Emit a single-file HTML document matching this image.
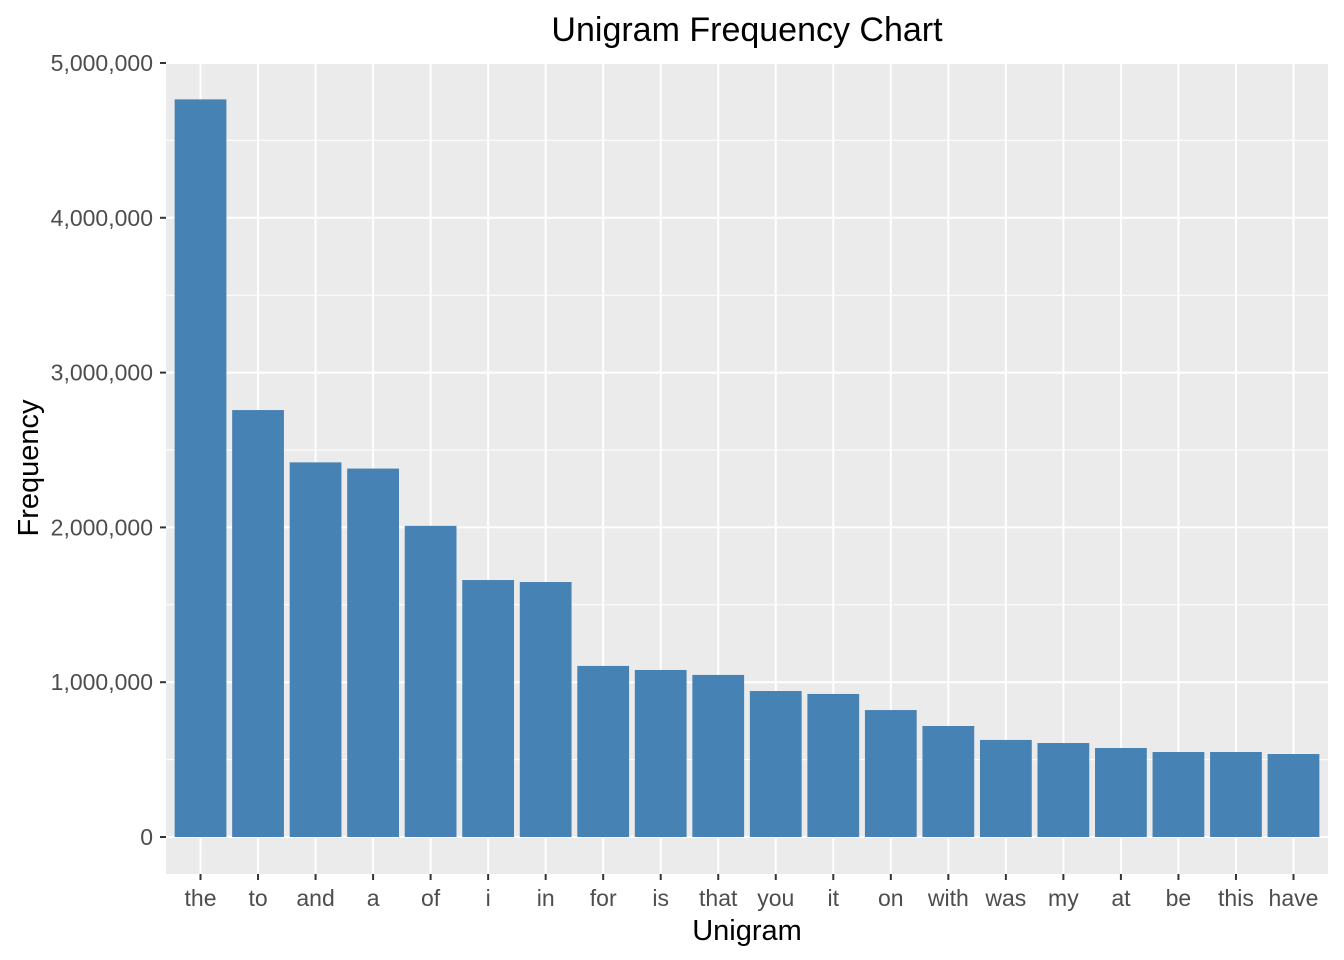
<!DOCTYPE html>
<html><head><meta charset="utf-8"><style>
body{margin:0;background:#fff;}
svg{display:block;font-family:"Liberation Sans",Arial,sans-serif;}
</style></head><body>
<svg id="chart" width="1344" height="960">
<rect x="0" y="0" width="1344" height="960" fill="#fff"/>
<rect x="166" y="63" width="1162" height="811" fill="#ebebeb"/>
<g id="grid"></g><g id="bars"></g><g id="axes"></g>
<text x="747" y="41" text-anchor="middle" font-size="34" fill="#000">Unigram Frequency Chart</text>
<text x="747" y="940" text-anchor="middle" font-size="29" fill="#000">Unigram</text>
<text transform="translate(38,468) rotate(-90)" text-anchor="middle" font-size="29" fill="#000">Frequency</text>
</svg>
<script>
const categories=["the","to","and","a","of","i","in","for","is","that","you","it","on","with","was","my","at","be","this","have"];
const frequencies=[4765000,2758000,2420000,2380000,2010000,1660000,1647000,1105000,1079000,1047000,943000,924000,820000,717000,627000,607000,575000,549000,549000,536000];
const yTicks=[0,1000000,2000000,3000000,4000000,5000000];
const yTickLabels=["0","1,000,000","2,000,000","3,000,000","4,000,000","5,000,000"];
const NS="http://www.w3.org/2000/svg";
const panelLeft=166,panelRight=1328,panelTop=63,panelBottom=874;
const yZero=837,yPer=(837-63)/5000000;
const yScale=v=>yZero-v*yPer;
const step=(panelRight-panelLeft)/(categories.length+0.2);
const xScale=i=>panelLeft+step*(0.6+i);
function mk(tag,attrs,parent){const e=document.createElementNS(NS,tag);for(const k in attrs)e.setAttribute(k,attrs[k]);parent.appendChild(e);return e;}
const gridG=document.getElementById('grid'),barsG=document.getElementById('bars'),axesG=document.getElementById('axes');
for(let i=0;i<yTicks.length;i++){
  const y=yScale(yTicks[i]);
  const l=mk('line',{x1:panelLeft,x2:panelRight,y1:y,y2:y,stroke:'#fff','stroke-width':2},gridG);
  
  
  if(i<yTicks.length-1){const ym=yScale((yTicks[i]+yTicks[i+1])/2);
    const m=mk('line',{x1:panelLeft,x2:panelRight,y1:ym,y2:ym,stroke:'#fff','stroke-width':1},gridG);
    
    }
  const t=mk('line',{x1:panelLeft-6,x2:panelLeft,y1:y,y2:y,stroke:'#333','stroke-width':2},axesG);
  
  
  const tx=mk('text',{x:panelLeft-13,y:y+8,'text-anchor':'end','font-size':23,fill:'#4d4d4d'},axesG);
  tx.textContent=yTickLabels[i];
  
  
}
const bw=step*0.9;
categories.forEach((c,i)=>{
  const x=xScale(i);
  const g=mk('line',{x1:x,x2:x,y1:panelTop,y2:panelBottom,stroke:'#fff','stroke-width':2},gridG);
  
  
  const y=yScale(frequencies[i]);
  const r=mk('rect',{x:x-bw/2,y:y,width:bw,height:yZero-y,fill:'#4682b4'},barsG);
  
  
  const t=mk('line',{x1:x,x2:x,y1:panelBottom,y2:panelBottom+6,stroke:'#333','stroke-width':2},axesG);
  
  
  const tx=mk('text',{x:x,y:906,'text-anchor':'middle','font-size':23,fill:'#4d4d4d'},axesG);
  tx.textContent=c;
  
  
});
</script>
</body></html>
